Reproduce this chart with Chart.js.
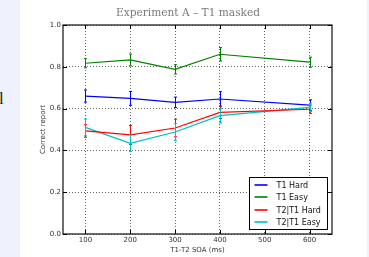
<!DOCTYPE html>
<html>
<head>
<meta charset="utf-8">
<script src="https://cdn.jsdelivr.net/npm/chart.js@4.4.0/dist/chart.umd.min.js"></script>
<style>
    html, body { margin: 0; padding: 0; }
    body { width: 369px; height: 257px; background: #eff2fc; position: relative; overflow: hidden; }
    #panel { position: absolute; left: 20px; top: 0; width: 347px; height: 257px; background: #fff; }
    #cut { position: absolute; left: -1px; top: 89px; font: 17px "Liberation Serif", serif; color: #222; }
    #wrap { position: absolute; left: 8px; top: 0; width: 360px; height: 257px; }
    #chart { display: block; }
</style>
</head>
<body>
<div id="panel"></div>
<div id="cut">l</div>
<div id="wrap"><canvas id="chart" width="360" height="257"></canvas></div>
<script>
// values
const chartTitle = 'Experiment A – T1 masked';
const soa = [100, 200, 300, 400, 600];
const xTicks = [100, 200, 300, 400, 500, 600];
const yTicks = [0, 0.2, 0.4, 0.6, 0.8, 1.0];

const t1Hard = [0.66, 0.649, 0.63, 0.646, 0.617];
const t1HardErr = [0.029, 0.033, 0.025, 0.035, 0.025];
const t1Easy = [0.817, 0.833, 0.788, 0.86, 0.822];
const t1EasyErr = [0.022, 0.028, 0.022, 0.032, 0.024];
const t2Hard = [0.493, 0.474, 0.507, 0.582, 0.597];
const t2HardErr = [0.03, 0.045, 0.042, 0.03, 0.02];
const t2Easy = [0.51, 0.434, 0.488, 0.566, 0.606];
const t2EasyErr = [0.04, 0.04, 0.04, 0.035, 0.02];

const seriesNames = ['T1 Hard', 'T1 Easy', 'T2|T1 Hard', 'T2|T1 Easy'];
const seriesColors = ['#0000ff', '#008000', '#ff0000', '#00bfbf'];
const seriesValues = [t1Hard, t1Easy, t2Hard, t2Easy];
const seriesErrs = [t1HardErr, t1EasyErr, t2HardErr, t2EasyErr];

const tickFont = { family: 'DejaVu Sans', size: 7 };

const datasets = seriesNames.map((name, i) => ({
    label: name,
    data: soa.map((x, j) => ({ x: x, y: seriesValues[i][j] })),
    errs: seriesErrs[i],
    borderColor: seriesColors[i],
    backgroundColor: seriesColors[i],
    borderWidth: 1.2,
    pointRadius: 0,
    tension: 0
}));

// title, error bars, frame with inward ticks, legend box
const extras = {
    id: 'extras',
    afterDatasetsDraw(chart) {
        const ctx = chart.ctx;
        const xs = chart.scales.x, ys = chart.scales.y;
        const a = chart.chartArea;
        ctx.save();

        ctx.fillStyle = '#7a7a7a';
        ctx.font = '10.6px "DejaVu Serif"';
        ctx.textAlign = 'center';
        ctx.textBaseline = 'middle';
        ctx.fillText(chartTitle, 180, 13);
        ctx.textAlign = 'left';

        chart.data.datasets.forEach(ds => {
            ctx.strokeStyle = ds.borderColor;
            ctx.lineWidth = 1;
            ds.data.forEach((p, j) => {
                const px = Math.round(xs.getPixelForValue(p.x)) + 0.5;
                const y1 = ys.getPixelForValue(p.y - ds.errs[j]);
                const y2 = ys.getPixelForValue(p.y + ds.errs[j]);
                ctx.beginPath();
                ctx.moveTo(px, y1); ctx.lineTo(px, y2);
                ctx.moveTo(px - 1.5, y1); ctx.lineTo(px + 1.5, y1);
                ctx.moveTo(px - 1.5, y2); ctx.lineTo(px + 1.5, y2);
                ctx.stroke();
            });
        });

        // frame
        ctx.strokeStyle = '#222';
        ctx.lineWidth = 1.3;
        ctx.strokeRect(a.left, a.top, a.right - a.left, a.bottom - a.top);
        ctx.lineWidth = 1;
        ctx.strokeStyle = '#000';
        ctx.beginPath();
        xs.ticks.forEach(t => {
            const px = Math.round(xs.getPixelForValue(t.value)) + 0.5;
            ctx.moveTo(px, a.bottom); ctx.lineTo(px, a.bottom - 4);
            ctx.moveTo(px, a.top); ctx.lineTo(px, a.top + 4);
        });
        ys.ticks.forEach(t => {
            const py = Math.round(ys.getPixelForValue(t.value)) + 0.5;
            ctx.moveTo(a.left, py); ctx.lineTo(a.left + 4, py);
            ctx.moveTo(a.right, py); ctx.lineTo(a.right - 4, py);
        });
        ctx.stroke();

        // legend
        const w = 78, h = 52;
        const lx = Math.round(a.right - 5 - w) + 0.5;
        const ly = Math.round(a.bottom - 5 - h) + 0.5;
        ctx.fillStyle = '#fff';
        ctx.fillRect(lx, ly, w, h);
        ctx.strokeStyle = '#000';
        ctx.lineWidth = 1;
        ctx.strokeRect(lx, ly, w, h);
        ctx.font = '8px "DejaVu Sans"';
        ctx.textBaseline = 'middle';
        chart.data.datasets.forEach((ds, i) => {
            const ry = Math.round(ly + 7 + i * 12.6);
            ctx.strokeStyle = ds.borderColor;
            ctx.lineWidth = 1.6;
            ctx.beginPath();
            ctx.moveTo(lx + 5, ry); ctx.lineTo(lx + 18, ry);
            ctx.stroke();
            ctx.fillStyle = '#111';
            ctx.fillText(ds.label, lx + 27, ry + 0.5);
        });
        ctx.restore();
    }
};

const ctx = document.getElementById('chart').getContext('2d');
const chart = new Chart(ctx, {
    type: 'line',
    data: { datasets: datasets },
    options: {
        responsive: false,
        animation: false,
        devicePixelRatio: 1,
        layout: { padding: { left: 0, right: 36, top: 25, bottom: 0 } },
        plugins: {
            legend: { display: false },
            tooltip: { enabled: false },
            title: { display: false }
        },
        scales: {
            x: {
                type: 'linear',
                min: 50,
                max: 650,
                afterBuildTicks: axis => { axis.ticks = xTicks.map(v => ({ value: v })); },
                afterFit: axis => { axis.height = 23; },
                ticks: { font: tickFont, color: '#333', padding: 2 },
                grid: { color: '#666', lineWidth: 1, drawTicks: false },
                border: { display: false, dash: [1, 2] },
                title: { display: true, text: 'T1-T2 SOA (ms)', font: tickFont, color: '#333', padding: { top: 0, bottom: 3 } }
            },
            y: {
                min: 0,
                max: 1,
                afterBuildTicks: axis => { axis.ticks = yTicks.map(v => ({ value: v })); },
                afterFit: axis => { axis.width = 55; },
                ticks: { font: tickFont, color: '#333', padding: 2, callback: v => v.toFixed(1) },
                grid: { color: '#666', lineWidth: 1, drawTicks: false },
                border: { display: false, dash: [1, 2] },
                title: { display: true, text: 'Correct report', font: tickFont, color: '#333', padding: { top: 31, bottom: 0 } }
            }
        }
    },
    plugins: [extras]
});
</script>
</body>
</html>
